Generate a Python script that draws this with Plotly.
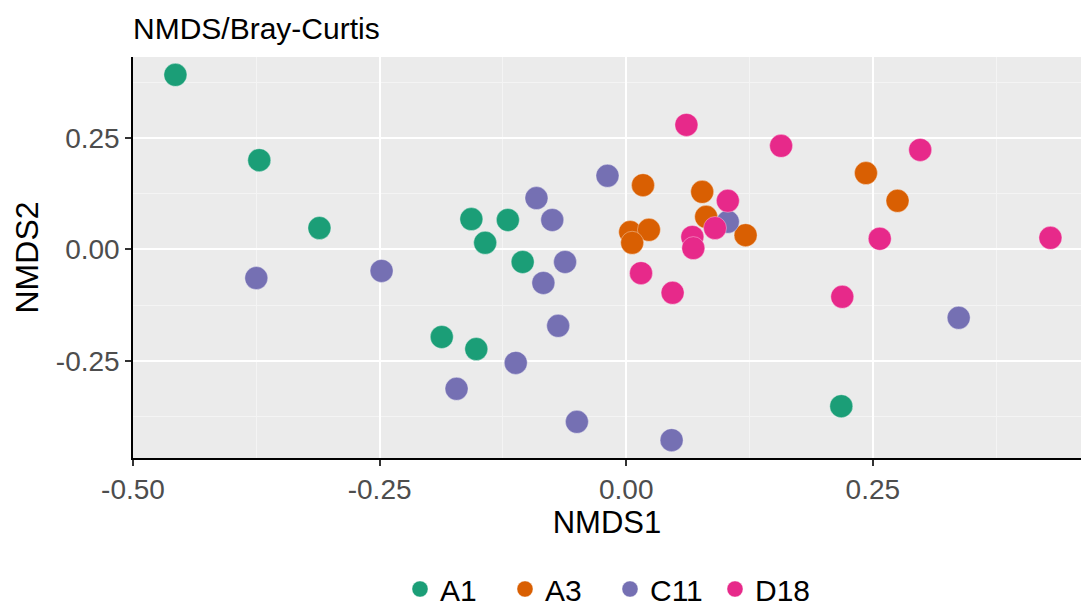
import plotly.graph_objects as go

# ---- data ----
groups = ["A1", "A3", "C11", "D18"]
colors = ["#1B9E77", "#D95F02", "#7570B3", "#E7298A"]

a1_x = [-0.457, -0.372, -0.311, -0.157, -0.143, -0.120, -0.105, -0.187, -0.152, 0.218]
a1_y = [0.391, 0.200, 0.048, 0.068, 0.015, 0.066, -0.028, -0.196, -0.223, -0.351]

a3_x = [0.017, 0.077, 0.081, 0.004, 0.023, 0.006, 0.121, 0.243, 0.275]
a3_y = [0.144, 0.129, 0.073, 0.039, 0.044, 0.015, 0.032, 0.171, 0.109]

c11_x = [-0.375, -0.248, -0.091, -0.075, -0.062, -0.084, -0.019, -0.069, -0.112, -0.172, -0.050, 0.046, 0.103, 0.337]
c11_y = [-0.064, -0.048, 0.115, 0.066, -0.028, -0.075, 0.165, -0.171, -0.254, -0.312, -0.386, -0.427, 0.062, -0.153]

d18_x = [0.061, 0.157, 0.298, 0.103, 0.090, 0.067, 0.068, 0.015, 0.047, 0.257, 0.219, 0.430]
d18_y = [0.279, 0.232, 0.223, 0.109, 0.048, 0.028, 0.003, -0.053, -0.097, 0.024, -0.106, 0.026]

x_tickvals = [-0.50, -0.25, 0.00, 0.25]
x_ticktext = ["-0.50", "-0.25", "0.00", "0.25"]
y_tickvals = [-0.25, 0.00, 0.25]
y_ticktext = ["-0.25", "0.00", "0.25"]

title_text = "NMDS/Bray-Curtis"
x_title = "NMDS1"
y_title = "NMDS2"

series_x = [a1_x, a3_x, c11_x, d18_x]
series_y = [a1_y, a3_y, c11_y, d18_y]

FONT = "Liberation Sans, Arial, Helvetica, sans-serif"

fig = go.Figure()
for name, col, xs, ys in zip(groups, colors, series_x, series_y):
    fig.add_trace(go.Scatter(
        x=xs, y=ys, mode="markers", name=name,
        marker=dict(color=col, size=23, line=dict(width=1, color="rgba(255,255,255,0.35)")),
    ))

axis_common = dict(
    showline=True, linecolor="black", linewidth=1.5, mirror=False,
    showgrid=True, gridcolor="white", gridwidth=2,
    zeroline=False,
    ticks="outside", ticklen=6, tickwidth=1.5, tickcolor="#333333",
    tickfont=dict(family=FONT, size=28, color="#4D4D4D"),
    minor=dict(dtick=0.125, showgrid=True, gridcolor="#F4F4F4", gridwidth=1),
)

fig.update_layout(
    width=1081, height=609,
    margin=dict(l=133, r=0, t=57, b=151, autoexpand=False),
    paper_bgcolor="white", plot_bgcolor="#EBEBEB",
    font=dict(family=FONT, color="black"),
    title=dict(text=title_text, x=0, xref="paper", xanchor="left",
               y=1 - 28 / 609, yref="container", yanchor="middle",
               font=dict(family=FONT, size=30, color="black")),
    xaxis=dict(range=[-0.5, 0.461], tickvals=x_tickvals, ticktext=x_ticktext,
               title=dict(text=x_title, font=dict(family=FONT, size=31, color="black"), standoff=6),
               **axis_common),
    yaxis=dict(range=[-0.467, 0.431], tickvals=y_tickvals, ticktext=y_ticktext,
               title=dict(text=y_title, font=dict(family=FONT, size=32, color="black"), standoff=8),
               **axis_common),
    showlegend=True,
    legend=dict(orientation="h", xref="container", x=610 / 1081, xanchor="center",
                yref="container", y=(609 - 589) / 609, yanchor="middle",
                font=dict(family=FONT, size=30, color="black"),
                entrywidth=60, entrywidthmode="pixels",
                bgcolor="rgba(0,0,0,0)", itemsizing="trace"),
)

fig.write_html("out.html")
